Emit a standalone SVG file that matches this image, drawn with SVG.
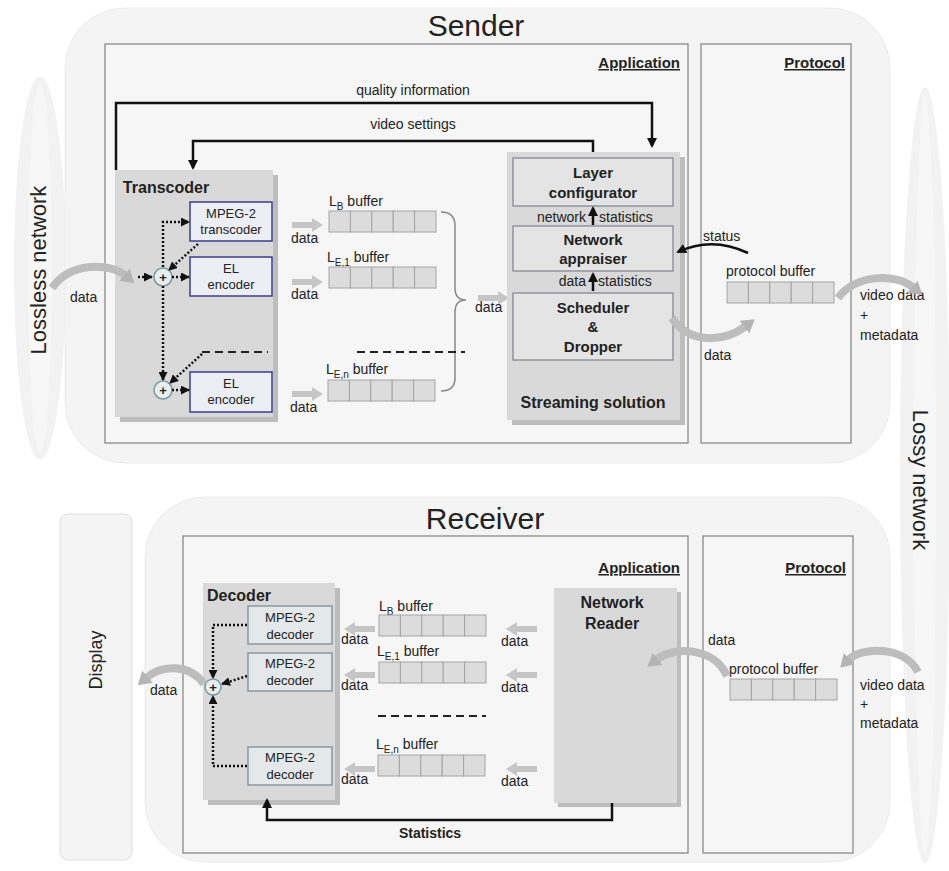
<svg xmlns="http://www.w3.org/2000/svg" width="949" height="871" viewBox="0 0 949 871">
<style>
svg{font-size:14px}
.t{font-family:"Liberation Sans",Arial,sans-serif;fill:#222}
.b{font-weight:bold}
.outer{fill:#f4f4f4;stroke:#ececec;stroke-width:1}
.frame{fill:#f6f6f6;stroke:#8a8a8a;stroke-width:1.3}
.gbox{fill:#d9d9d9}
.shadow{fill:#bdbdbd}
.bluebox{fill:#eceef6;stroke:#3c3c8c;stroke-width:1.5}
.greybox{fill:#e4e4e4;stroke:#808090;stroke-width:1.2}
.decbox{fill:#e4e8ea;stroke:#8899a4;stroke-width:1.5}
.cell{fill:#dcdcdc;stroke:#a4a4a4;stroke-width:1}
.con{fill:none;stroke:#111;stroke-width:2.5}
.dot{fill:none;stroke:#111;stroke-width:2.5;stroke-dasharray:2,2}
.dash{fill:none;stroke:#222;stroke-width:2;stroke-dasharray:8,5}
.curve{fill:none;stroke:#bdbdbd;stroke-width:8;stroke-linecap:butt}
.plus{fill:#e8eef0;stroke:#7a9aa0;stroke-width:1.5}
</style>
<defs>
<marker id="ah" markerWidth="10" markerHeight="10" refX="8" refY="5" orient="auto" markerUnits="userSpaceOnUse"><path d="M0,0 L10,5 L0,10z" fill="#111"/></marker>
<marker id="dh" markerWidth="9" markerHeight="9" refX="8" refY="4.5" orient="auto" markerUnits="userSpaceOnUse"><path d="M0,0 L9,4.5 L0,9z" fill="#111"/></marker>
<marker id="gh" markerWidth="13" markerHeight="16" refX="2" refY="8" orient="auto" markerUnits="userSpaceOnUse"><path d="M0,0 L13,8 L0,16z" fill="#b4b4b4"/></marker>
<path id="rarr" d="M0,4 L20,4 L20,0 L31,7 L20,14 L20,10 L0,10z" fill="#c6c6c6"/>
<path id="larr" d="M31,4 L11,4 L11,0 L0,7 L11,14 L11,10 L31,10z" fill="#c6c6c6"/>
<g id="buf"><rect class="cell" x="0" y="0" width="21.4" height="21"/><rect class="cell" x="21.4" y="0" width="21.4" height="21"/><rect class="cell" x="42.8" y="0" width="21.4" height="21"/><rect class="cell" x="64.2" y="0" width="21.4" height="21"/><rect class="cell" x="85.6" y="0" width="21.4" height="21"/></g>
</defs>

<!-- networks -->
<g id="lossless">
<ellipse cx="40" cy="268" rx="26" ry="192" fill="#f2f2f2"/>
<ellipse cx="40" cy="268" rx="12" ry="185" fill="#f7f7f7"/>
<text class="t" font-size="22" text-anchor="middle" transform="translate(46,270) rotate(-90)">Lossless network</text>
</g>
<g id="lossy">
<ellipse cx="925" cy="475" rx="25" ry="388" fill="#f2f2f2"/>
<ellipse cx="925" cy="475" rx="11" ry="380" fill="#f7f7f7"/>
<text class="t" font-size="22" text-anchor="middle" transform="translate(913,480) rotate(90)">Lossy network</text>
</g>

<!-- Sender -->
<g id="sender">
<rect class="outer" x="65" y="8" width="825" height="455" rx="60"/>
<text class="t" x="476" y="36" font-size="30" text-anchor="middle">Sender</text>
<rect class="frame" x="105" y="44" width="583" height="399"/>
<text class="t b" x="680" y="68" font-size="15" text-anchor="end" text-decoration="underline">Application</text>
<rect class="frame" x="701" y="44" width="150" height="399"/>
<text class="t b" x="845" y="68" font-size="15" text-anchor="end" text-decoration="underline">Protocol</text>
</g>

<g id="transcoder">
<rect class="shadow" x="120" y="175" width="158" height="247"/>
<rect class="gbox" x="115" y="170" width="158" height="247"/>
<text class="t b" x="166" y="193" font-size="16" text-anchor="middle">Transcoder</text>
<rect class="bluebox" x="190" y="202" width="82" height="39"/>
<text class="t" x="231" y="218" font-size="13" text-anchor="middle">MPEG-2</text>
<text class="t" x="231" y="234" font-size="13" text-anchor="middle">transcoder</text>
<rect class="bluebox" x="190" y="257" width="82" height="39"/>
<text class="t" x="231" y="273" font-size="13" text-anchor="middle">EL</text>
<text class="t" x="231" y="289" font-size="13" text-anchor="middle">encoder</text>
<rect class="bluebox" x="190" y="372" width="82" height="40"/>
<text class="t" x="231" y="388" font-size="13" text-anchor="middle">EL</text>
<text class="t" x="231" y="404" font-size="13" text-anchor="middle">encoder</text>
<circle class="plus" cx="163" cy="277" r="9"/>
<text class="t b" x="163" y="282" font-size="13" text-anchor="middle">+</text>
<circle class="plus" cx="163" cy="390" r="9"/>
<text class="t b" x="163" y="395" font-size="13" text-anchor="middle">+</text>
</g>

<g id="sender-buffers">
<text class="t" x="329" y="206" font-size="14">L<tspan font-size="10" dy="4">B</tspan><tspan dy="-4"> buffer</tspan></text>
<use href="#buf" x="329" y="211"/>
<use href="#rarr" x="292" y="218"/>
<text class="t" x="291" y="243">data</text>
<text class="t" x="327" y="262" font-size="14">L<tspan font-size="10" dy="4">E,1</tspan><tspan dy="-4"> buffer</tspan></text>
<use href="#buf" x="329" y="267"/>
<use href="#rarr" x="292" y="275"/>
<text class="t" x="291" y="299">data</text>
<text class="t" x="326" y="374" font-size="14">L<tspan font-size="10" dy="4">E,n</tspan><tspan dy="-4"> buffer</tspan></text>
<use href="#buf" x="328" y="380"/>
<use href="#rarr" x="292" y="387"/>
<text class="t" x="290" y="412">data</text>
<path d="M441,212 Q455,212 455,226 V288 Q455,300 466,300 Q455,300 455,312 V378 Q455,391 441,391" fill="none" stroke="#888" stroke-width="1.5"/>
<use href="#rarr" x="478" y="291"/>
<text class="t" x="475" y="312">data</text>
</g>

<g id="streaming">
<rect class="shadow" x="512" y="157" width="173" height="268"/>
<rect class="gbox" x="507" y="152" width="173" height="268"/>
<rect class="greybox" x="513" y="158" width="160" height="48"/>
<text class="t b" x="593" y="178" font-size="15" text-anchor="middle">Layer</text>
<text class="t b" x="593" y="198" font-size="15" text-anchor="middle">configurator</text>
<text class="t" x="586" y="222" text-anchor="end">network</text>
<text class="t" x="599" y="222">statistics</text>
<rect class="greybox" x="513" y="226" width="160" height="45"/>
<text class="t b" x="593" y="245" font-size="15" text-anchor="middle">Network</text>
<text class="t b" x="593" y="264" font-size="15" text-anchor="middle">appraiser</text>
<text class="t" x="586" y="286" text-anchor="end">data</text>
<text class="t" x="598" y="286">statistics</text>
<rect class="greybox" x="513" y="293" width="160" height="67"/>
<text class="t b" x="593" y="313" font-size="15" text-anchor="middle">Scheduler</text>
<text class="t b" x="593" y="332" font-size="15" text-anchor="middle">&amp;</text>
<text class="t b" x="593" y="352" font-size="15" text-anchor="middle">Dropper</text>
<text class="t b" x="593" y="408" font-size="16" text-anchor="middle">Streaming solution</text>
</g>

<g id="sender-protocol">
<text class="t" x="703" y="241">status</text>
<text class="t" x="726" y="276">protocol buffer</text>
<use href="#buf" x="727" y="282"/>
<text class="t" x="704" y="360">data</text>
<text class="t" x="860" y="300">video data</text>
<text class="t" x="860" y="320">+</text>
<text class="t" x="860" y="340">metadata</text>
<text class="t" x="70" y="302">data</text>
</g>

<!-- Receiver -->
<g id="display">
<rect x="60" y="514" width="72" height="346" rx="8" fill="#f4f4f4" stroke="#dedede"/>
<text class="t" font-size="18" text-anchor="middle" transform="translate(102,660) rotate(-90)">Display</text>
</g>
<g id="receiver">
<rect class="outer" x="145" y="497" width="745" height="365" rx="60"/>
<text class="t" x="485" y="529" font-size="30" text-anchor="middle">Receiver</text>
<rect class="frame" x="183" y="536" width="505" height="317"/>
<text class="t b" x="680" y="573" font-size="15" text-anchor="end" text-decoration="underline">Application</text>
<rect class="frame" x="703" y="536" width="150" height="317"/>
<text class="t b" x="846" y="573" font-size="15" text-anchor="end" text-decoration="underline">Protocol</text>
</g>

<g id="decoder">
<rect class="shadow" x="208" y="588" width="132" height="217"/>
<rect class="gbox" x="203" y="583" width="132" height="217"/>
<text class="t b" x="239" y="601" font-size="16" text-anchor="middle">Decoder</text>
<rect class="decbox" x="248" y="606" width="84" height="38"/>
<text class="t" x="290" y="622" font-size="13" text-anchor="middle">MPEG-2</text>
<text class="t" x="290" y="639" font-size="13" text-anchor="middle">decoder</text>
<rect class="decbox" x="248" y="653" width="84" height="38"/>
<text class="t" x="290" y="668" font-size="13" text-anchor="middle">MPEG-2</text>
<text class="t" x="290" y="685" font-size="13" text-anchor="middle">decoder</text>
<rect class="decbox" x="248" y="747" width="84" height="38"/>
<text class="t" x="290" y="762" font-size="13" text-anchor="middle">MPEG-2</text>
<text class="t" x="290" y="779" font-size="13" text-anchor="middle">decoder</text>
<circle class="plus" cx="213" cy="687" r="8"/>
<text class="t b" x="213" y="692" font-size="13" text-anchor="middle">+</text>
</g>

<g id="receiver-buffers">
<text class="t" x="379" y="611">L<tspan font-size="10" dy="4">B</tspan><tspan dy="-4"> buffer</tspan></text>
<use href="#buf" x="379" y="615"/>
<text class="t" x="377" y="656">L<tspan font-size="10" dy="4">E,1</tspan><tspan dy="-4"> buffer</tspan></text>
<use href="#buf" x="379" y="662"/>
<text class="t" x="376" y="749">L<tspan font-size="10" dy="4">E,n</tspan><tspan dy="-4"> buffer</tspan></text>
<use href="#buf" x="378" y="755"/>
<use href="#larr" x="344" y="622"/>
<text class="t" x="341" y="644">data</text>
<use href="#larr" x="344" y="668"/>
<text class="t" x="341" y="690">data</text>
<use href="#larr" x="344" y="762"/>
<text class="t" x="341" y="784">data</text>
<use href="#larr" x="506" y="622"/>
<text class="t" x="501" y="646">data</text>
<use href="#larr" x="506" y="668"/>
<text class="t" x="501" y="692">data</text>
<use href="#larr" x="506" y="762"/>
<text class="t" x="501" y="786">data</text>
</g>

<g id="network-reader">
<rect class="shadow" x="558" y="592" width="123" height="215"/>
<rect class="gbox" x="554" y="588" width="123" height="215"/>
<text class="t b" x="612" y="608" font-size="16" text-anchor="middle">Network</text>
<text class="t b" x="612" y="629" font-size="16" text-anchor="middle">Reader</text>
</g>

<g id="receiver-protocol">
<text class="t" x="708" y="645">data</text>
<text class="t" x="729" y="674">protocol buffer</text>
<use href="#buf" x="730" y="679"/>
<text class="t" x="860" y="690">video data</text>
<text class="t" x="860" y="709">+</text>
<text class="t" x="860" y="728">metadata</text>
<text class="t" x="150" y="695">data</text>
<text class="t b" x="430" y="838" text-anchor="middle">Statistics</text>
</g>

<!-- connectors -->
<g id="connectors">
<path class="con" d="M116,170 V103 H652 V146" marker-end="url(#ah)"/>
<text class="t" x="413" y="95" text-anchor="middle">quality information</text>
<path class="con" d="M593,152 V141 H193 V168" marker-end="url(#ah)"/>
<text class="t" x="413" y="129" text-anchor="middle">video settings</text>
<path class="con" d="M593,291 V274" marker-end="url(#ah)"/>
<path class="con" d="M593,225 V208" marker-end="url(#ah)"/>
<path class="con" d="M748,253 Q712,236 678,252" stroke-width="2" marker-end="url(#ah)"/>
<path class="con" d="M612,803 V820 H267 V800" marker-end="url(#ah)"/>

<path class="dot" d="M138,277 H152" marker-end="url(#dh)"/>
<path class="dot" d="M172,277 H189" marker-end="url(#dh)"/>
<path class="dot" d="M163,267 V222 H189" marker-end="url(#dh)"/>
<path class="dot" d="M198,244 L169,270" marker-end="url(#dh)"/>
<path class="dot" d="M163,286 V380" marker-end="url(#dh)"/>
<path class="dash" d="M202,352 H268"/>
<path class="dot" d="M202,354 L170,383" marker-end="url(#dh)"/>
<path class="dot" d="M172,390 H189" marker-end="url(#dh)"/>
<path class="dash" d="M357,352 H465"/>
<path class="dash" d="M378,716 H486"/>

<path class="dot" d="M247,625 H213 V678" marker-end="url(#dh)"/>
<path class="dot" d="M247,676 L222,684" marker-end="url(#dh)"/>
<path class="dot" d="M247,766 H213 V696" marker-end="url(#dh)"/>

<path class="curve" d="M52,288 C70,262 110,262 126,276" marker-end="url(#gh)"/>
<path class="curve" d="M672,318 C690,345 725,342 746,326" marker-end="url(#gh)"/>
<path class="curve" d="M838,298 C855,275 895,272 914,288" marker-end="url(#gh)"/>
<path class="curve" d="M727,676 C715,648 675,645 656,660" marker-end="url(#gh)"/>
<path class="curve" d="M918,672 C905,646 862,646 848,660" marker-end="url(#gh)"/>
<path class="curve" d="M204,684 C190,664 162,664 146,678" marker-end="url(#gh)"/>
</g>
</svg>
